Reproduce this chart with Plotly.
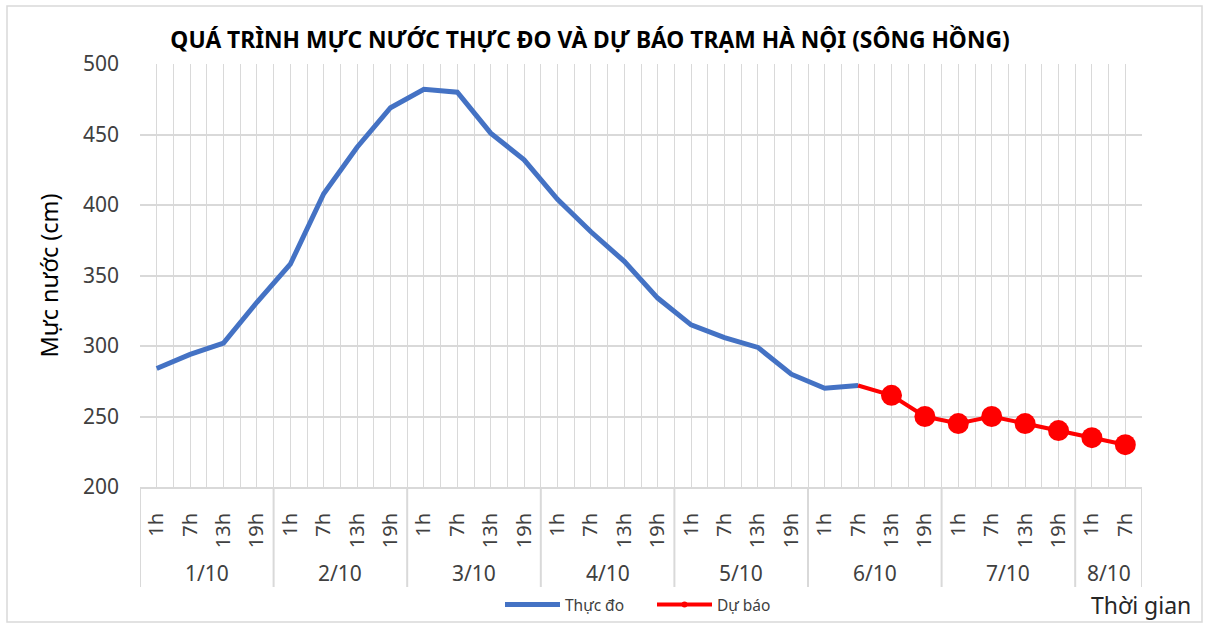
import plotly.graph_objects as go

# ---------------- data ----------------
date_labels = ["1/10", "2/10", "3/10", "4/10", "5/10", "6/10", "7/10", "8/10"]
hours_per_date = [["1h", "7h", "13h", "19h"]] * 7 + [["1h", "7h"]]
observed = [284, 294, 302, 331, 358, 408, 441, 469, 482, 480, 451, 432,
            404, 381, 360, 334, 315, 306, 299, 280, 270, 272]
forecast = [272, 265, 250, 245, 250, 245, 240, 235, 230]
title_text = "QUÁ TRÌNH MỰC NƯỚC THỰC ĐO VÀ DỰ BÁO TRẠM HÀ NỘI (SÔNG HỒNG)"

# ---------------- categories ----------------
hour_labels = [h for hs in hours_per_date for h in hs]
n_cat = len(hour_labels)
cat_idx = list(range(n_cat))
obs_x = cat_idx[:len(observed)]
fc_x = cat_idx[len(observed) - 1:len(observed) - 1 + len(forecast)]

# group boundaries
bounds = [-0.5]
centers = []
start = 0
for hs in hours_per_date:
    end = start + len(hs)
    centers.append((start + end - 1) / 2)
    bounds.append(end - 0.5)
    start = end

FONT = "Noto Sans"
W, H = 1213, 626
L, R, T, B = 140, 71, 64, 139
ph = H - T - B
pw = W - L - R


def py(pix):  # pixel y -> paper y
    return (H - B - pix) / ph


def px(pix):  # pixel x -> paper x
    return (pix - L) / pw


fig = go.Figure()
fig.add_trace(go.Scatter(
    x=obs_x, y=observed, mode="lines", name="Thực đo",
    line=dict(color="#4472C4", width=5), showlegend=True))
fig.add_trace(go.Scatter(
    x=fc_x, y=forecast, mode="lines+markers", name="Dự báo",
    line=dict(color="#FF0000", width=4),
    marker=dict(color="#FF0000", opacity=1, line=dict(width=0),
                size=[0] + [21] * (len(forecast) - 1)),
    showlegend=False))
# legend entry for forecast (small marker as in reference)
fig.add_trace(go.Scatter(
    x=[None], y=[None], mode="lines+markers", name="Dự báo",
    line=dict(color="#FF0000", width=4),
    marker=dict(color="#FF0000", size=6)))

shapes = []
for b in bounds:
    shapes.append(dict(type="line", xref="x", yref="paper", x0=b, x1=b,
                       y0=0, y1=py(587), line=dict(color="#D9D9D9", width=2)))
# outer chart border
shapes.append(dict(type="rect", xref="paper", yref="paper",
                   x0=px(7), x1=px(1202), y0=py(6), y1=py(622),
                   line=dict(color="#D9D9D9", width=1.5), layer="below"))

annotations = []
for c, d in zip(centers, date_labels):
    annotations.append(dict(x=c, y=py(573), xref="x", yref="paper", text=d,
                            showarrow=False, font=dict(family=FONT, size=21, color="#404040"),
                            xanchor="center", yanchor="middle"))
annotations.append(dict(x=px(1141), y=py(605), xref="paper", yref="paper",
                        text="Thời gian", showarrow=False,
                        font=dict(family=FONT, size=23, color="#262626"),
                        xanchor="center", yanchor="middle"))
annotations.append(dict(x=px(48), y=0.5, xref="paper", yref="paper",
                        text="Mực nước (cm)", showarrow=False, textangle=-90,
                        font=dict(family=FONT, size=23.5, color="#000000"),
                        xanchor="center", yanchor="middle"))

fig.update_layout(
    width=W, height=H,
    margin=dict(l=L, r=R, t=T, b=B),
    paper_bgcolor="white", plot_bgcolor="white",
    title=dict(text="<b>" + title_text + "</b>", x=px(590), xref="paper",
               xanchor="center", y=1 - 40 / H, yanchor="middle",
               font=dict(family=FONT, size=22.8, color="#000000")),
    showlegend=True,
    legend=dict(orientation="h", xref="container", yref="container",
                x=500 / W, y=1 - 605 / H, xanchor="left",
                yanchor="middle", font=dict(family=FONT, size=15.5, color="#404040"),
                itemwidth=55, entrywidth=82, entrywidthmode="pixels",
                bgcolor="rgba(0,0,0,0)"),
    shapes=shapes, annotations=annotations,
)
fig.update_xaxes(
    range=[-0.5, n_cat - 0.5], tickmode="array", tickvals=cat_idx,
    ticktext=hour_labels, tickangle=-90, ticks="", ticklabelstandoff=16,
    tickfont=dict(family=FONT, size=20, color="#404040"),
    showgrid=True, gridcolor="#D9D9D9", gridwidth=1,
    minor=dict(tickmode="array", tickvals=[i + 0.5 for i in range(-1, n_cat)],
               showgrid=True, gridcolor="#D9D9D9", gridwidth=1),
    showline=True, linecolor="#D9D9D9", linewidth=2, zeroline=False,
)
fig.update_yaxes(
    range=[200, 500], dtick=50, tick0=200, showgrid=True,
    gridcolor="#D9D9D9", gridwidth=1.5, zeroline=False, ticks="",
    ticklabelstandoff=20,
    tickfont=dict(family=FONT, size=21, color="#404040"),
)

fig.write_html("out.html", config={"displayModeBar": False},
               post_script="document.body.style.margin='0';")
